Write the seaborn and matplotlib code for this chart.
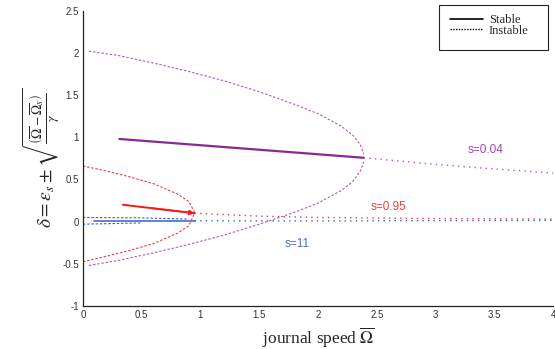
import numpy as np
import pandas as pd
import matplotlib
matplotlib.use("Agg")
import matplotlib.pyplot as plt
from matplotlib.lines import Line2D
from matplotlib.patches import Rectangle
import seaborn as sns

# ---- data: bifurcation branches for three values of s ----
# s = 0.04 (purple)
p_branch_x = [0.05, 0.3, 0.6, 0.9, 1.2, 1.5, 1.8, 2.0, 2.2, 2.3, 2.36, 2.39]
p_upper_y = [2.02, 1.97, 1.88, 1.78, 1.67, 1.54, 1.39, 1.28, 1.13, 1.02, 0.91, 0.80]
p_lower_y = [-0.52, -0.46, -0.37, -0.27, -0.16, -0.03, 0.11, 0.22, 0.37, 0.48, 0.60, 0.71]
p_stable_x = [0.31, 2.39]
p_stable_y = [0.98, 0.757]
p_unstable_x = [2.39, 2.95, 3.35, 4.0]
p_unstable_y = [0.757, 0.685, 0.64, 0.575]

# s = 0.95 (red)
r_branch_x = [0.0, 0.2, 0.4, 0.6, 0.8, 0.9, 0.95]
r_upper_y = [0.66, 0.60, 0.53, 0.45, 0.33, 0.24, 0.11]
r_lower_y = [-0.475, -0.41, -0.34, -0.26, -0.14, -0.05, 0.10]
r_stable_x = [0.34, 0.95]
r_stable_y = [0.20, 0.10]
r_unstable_x = [0.95, 1.5, 2.0, 2.7, 4.0]
r_unstable_y = [0.10, 0.065, 0.05, 0.04, 0.03]

# s = 11 (blue)
b_upper_x = [0.0, 0.5, 0.9]
b_upper_y = [0.05, 0.045, 0.03]
b_lower_x = [0.0, 0.5]
b_lower_y = [-0.03, -0.015]
b_stable_x = [0.09, 0.95]
b_stable_y = [0.012, 0.012]
b_unstable_x = [0.95, 2.0, 3.0, 4.0]
b_unstable_y = [0.01, 0.008, 0.012, 0.015]

x_ticks = [0, 0.5, 1, 1.5, 2, 2.5, 3, 3.5, 4]
x_tick_labels = ["0", "0.5", "1", "1.5", "2", "2.5", "3", "3.5", "4"]
y_ticks = [-1, -0.5, 0, 0.5, 1, 1.5, 2, 2.5]
y_tick_labels = ["-1", "-0.5", "0", "0.5", "1", "1.5", "2", "2.5"]

sns.set_style("white")
plt.rcParams["mathtext.fontset"] = "stix"

fig = plt.figure(figsize=(5.55, 3.49), dpi=100)
ax = fig.add_axes([0.1495, 0.1232, 0.847, 0.846])

purple_d = "#b558c4"
purple = "#862a92"
red_d = "#f23a3a"
red = "#ee1c1c"
blue_d = "#3a62c4"
blue = "#4a6cc4"

dash = (0, (2.2, 1.6))
dot = (0, (1, 3))


def draw(x, y, color, ls, lw):
    sns.lineplot(x=x, y=y, ax=ax, color=color, linestyle=ls, linewidth=lw,
                 estimator=None, sort=False, legend=False)


# purple s=0.04
draw(p_branch_x, p_upper_y, purple_d, dash, 0.8)
draw(p_branch_x, p_lower_y, purple_d, dash, 0.8)
draw(p_stable_x, p_stable_y, purple, "-", 1.6)
draw(p_unstable_x, p_unstable_y, purple_d, dot, 1.0)

# red s=0.95
draw(r_branch_x, r_upper_y, red_d, dash, 0.8)
draw(r_branch_x, r_lower_y, red_d, dash, 0.8)
draw(r_stable_x, r_stable_y, red, "-", 1.4)
ax.annotate("", xy=(r_stable_x[-1], r_stable_y[-1]),
            xytext=(r_stable_x[-2] + 0.4 * (r_stable_x[-1] - r_stable_x[-2]),
                    r_stable_y[-2] + 0.4 * (r_stable_y[-1] - r_stable_y[-2])),
            arrowprops=dict(arrowstyle="-|>", color=red, lw=1.2,
                            mutation_scale=7, shrinkA=0, shrinkB=0))
draw(r_unstable_x, r_unstable_y, red_d, dot, 1.0)

# blue s=11
draw(b_upper_x, b_upper_y, blue_d, dash, 0.8)
draw(b_lower_x, b_lower_y, blue_d, dash, 0.8)
draw(b_stable_x, b_stable_y, blue, "-", 1.2)
draw(b_unstable_x, b_unstable_y, blue_d, dot, 1.0)

# curve labels
ax.text(3.27, 0.85, "s=0.04", color="#9a4aa6", fontsize=8.5,
        family="Liberation Sans", va="center")
ax.text(2.45, 0.17, "s=0.95", color="#f04040", fontsize=8.5,
        family="Liberation Sans", va="center")
ax.text(1.72, -0.27, "s=11", color="#5070c0", fontsize=8.5,
        family="Liberation Sans", va="center")

ax.set_xlim(0, 4)
ax.set_ylim(-1, 2.5)
ax.set_xticks(x_ticks)
ax.set_xticklabels(x_tick_labels)
ax.set_yticks(y_ticks)
ax.set_yticklabels(y_tick_labels)
ax.tick_params(direction="in", length=4, width=0.8, labelsize=7,
               colors="#222222", labelcolor="#333333", pad=3)
for lab in ax.get_xticklabels() + ax.get_yticklabels():
    lab.set_family("Liberation Sans")

for side in ["top", "right"]:
    ax.spines[side].set_visible(False)
for side in ["left", "bottom"]:
    ax.spines[side].set_color("#222222")
    ax.spines[side].set_linewidth(0.9)

ax.set_xlabel(r"journal speed $\overline{\Omega}$", fontsize=12.5,
              family="Liberation Serif", labelpad=4)
ax.set_ylabel(r"$\delta=\varepsilon_s\pm\sqrt{\frac{\left(\overline{\Omega}-\overline{\Omega}_s\right)}{\gamma}}$",
              fontsize=14, labelpad=0)

# legend box with a little spare room below the entries
fig.add_artist(Rectangle((439 / 555, 1 - 50 / 349), 109 / 555, 45 / 349,
                         transform=fig.transFigure, facecolor="white",
                         edgecolor="#222222", linewidth=0.8, zorder=5))
handles = [Line2D([0], [0], color="black", lw=1.2, linestyle="-"),
           Line2D([0], [0], color="black", lw=1.0, linestyle=(0, (1, 1)))]
leg = fig.legend(handles, ["Stable", "Instable"], loc="upper left",
                 bbox_to_anchor=(450 / 555, 1 - 14 / 349), frameon=False,
                 prop={"family": "Liberation Serif", "size": 9},
                 handlelength=2.6, borderpad=0, labelspacing=-0.1,
                 handletextpad=0.5, borderaxespad=0)
leg.set_zorder(6)

fig.savefig("out.png", dpi=100)
